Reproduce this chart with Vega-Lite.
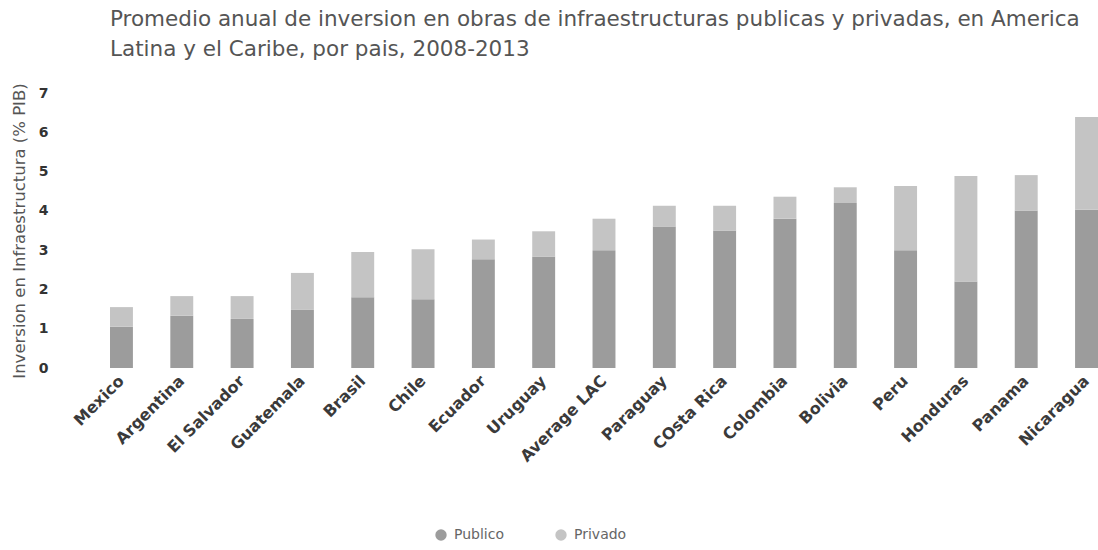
{
  "$schema": "https://vega.github.io/schema/vega-lite/v6.json",
  "autosize": "none",
  "padding": {"left": 110, "top": 93, "right": 0, "bottom": 182},
  "width": 988,
  "height": 275,
  "background": "white",
  "title": {
    "text": ["Promedio anual de inversion en obras de infraestructuras publicas y privadas, en America", "Latina y el Caribe, por pais, 2008-2013"],
    "anchor": "start",
    "frame": "group",
    "font": "DejaVu Sans",
    "fontSize": 21.5,
    "fontWeight": "normal",
    "color": "#555555",
    "lineHeight": 30,
    "offset": 22
  },
  "data": {
    "values": [
      {"pais": "Mexico", "tipo": "Publico", "orden": 1, "valor": 1.05},
      {"pais": "Mexico", "tipo": "Privado", "orden": 2, "valor": 0.5},
      {"pais": "Argentina", "tipo": "Publico", "orden": 1, "valor": 1.33},
      {"pais": "Argentina", "tipo": "Privado", "orden": 2, "valor": 0.5},
      {"pais": "El Salvador", "tipo": "Publico", "orden": 1, "valor": 1.25},
      {"pais": "El Salvador", "tipo": "Privado", "orden": 2, "valor": 0.58},
      {"pais": "Guatemala", "tipo": "Publico", "orden": 1, "valor": 1.48},
      {"pais": "Guatemala", "tipo": "Privado", "orden": 2, "valor": 0.94},
      {"pais": "Brasil", "tipo": "Publico", "orden": 1, "valor": 1.8},
      {"pais": "Brasil", "tipo": "Privado", "orden": 2, "valor": 1.15},
      {"pais": "Chile", "tipo": "Publico", "orden": 1, "valor": 1.75},
      {"pais": "Chile", "tipo": "Privado", "orden": 2, "valor": 1.27},
      {"pais": "Ecuador", "tipo": "Publico", "orden": 1, "valor": 2.77},
      {"pais": "Ecuador", "tipo": "Privado", "orden": 2, "valor": 0.5},
      {"pais": "Uruguay", "tipo": "Publico", "orden": 1, "valor": 2.83},
      {"pais": "Uruguay", "tipo": "Privado", "orden": 2, "valor": 0.65},
      {"pais": "Average LAC", "tipo": "Publico", "orden": 1, "valor": 3.0},
      {"pais": "Average LAC", "tipo": "Privado", "orden": 2, "valor": 0.8},
      {"pais": "Paraguay", "tipo": "Publico", "orden": 1, "valor": 3.6},
      {"pais": "Paraguay", "tipo": "Privado", "orden": 2, "valor": 0.53},
      {"pais": "COsta Rica", "tipo": "Publico", "orden": 1, "valor": 3.5},
      {"pais": "COsta Rica", "tipo": "Privado", "orden": 2, "valor": 0.63},
      {"pais": "Colombia", "tipo": "Publico", "orden": 1, "valor": 3.8},
      {"pais": "Colombia", "tipo": "Privado", "orden": 2, "valor": 0.56},
      {"pais": "Bolivia", "tipo": "Publico", "orden": 1, "valor": 4.2},
      {"pais": "Bolivia", "tipo": "Privado", "orden": 2, "valor": 0.4},
      {"pais": "Peru", "tipo": "Publico", "orden": 1, "valor": 3.0},
      {"pais": "Peru", "tipo": "Privado", "orden": 2, "valor": 1.63},
      {"pais": "Honduras", "tipo": "Publico", "orden": 1, "valor": 2.2},
      {"pais": "Honduras", "tipo": "Privado", "orden": 2, "valor": 2.69},
      {"pais": "Panama", "tipo": "Publico", "orden": 1, "valor": 4.0},
      {"pais": "Panama", "tipo": "Privado", "orden": 2, "valor": 0.91},
      {"pais": "Nicaragua", "tipo": "Publico", "orden": 1, "valor": 4.03},
      {"pais": "Nicaragua", "tipo": "Privado", "orden": 2, "valor": 2.36}
    ]
  },
  "mark": {"type": "bar"},
  "encoding": {
    "x": {
      "field": "pais",
      "type": "nominal",
      "sort": null,
      "scale": {"paddingInner": 0.62, "paddingOuter": 0},
      "axis": {
        "title": null,
        "labelAngle": -45,
        "labelAlign": "right",
        "labelBaseline": "middle",
        "labelFont": "DejaVu Sans",
        "labelFontWeight": "bold",
        "labelFontSize": 16,
        "labelColor": "#3a3a3a",
        "labelPadding": 10,
        "ticks": false,
        "domain": false,
        "labelOverlap": false
      }
    },
    "y": {
      "field": "valor",
      "type": "quantitative",
      "stack": "zero",
      "scale": {"domain": [0, 7]},
      "axis": {
        "title": "Inversion en Infraestructura (% PIB)",
        "titleFont": "DejaVu Sans",
        "titleFontWeight": "normal",
        "titleFontSize": 16.5,
        "titleColor": "#555555",
        "titlePadding": 11,
        "values": [0, 1, 2, 3, 4, 5, 6, 7],
        "labelFont": "DejaVu Sans",
        "labelFontWeight": "bold",
        "labelFontSize": 14,
        "labelColor": "#333333",
        "labelPadding": 62,
        "ticks": false,
        "domain": false,
        "grid": false
      }
    },
    "color": {
      "field": "tipo",
      "type": "nominal",
      "sort": ["Publico", "Privado"],
      "scale": {"domain": ["Publico", "Privado"], "range": ["#9c9c9c", "#c4c4c4"]},
      "legend": {
        "title": null,
        "orient": "none",
        "direction": "horizontal",
        "legendX": 324,
        "legendY": 435,
        "symbolType": "circle",
        "symbolSize": 130,
        "labelFont": "DejaVu Sans",
        "labelFontSize": 14,
        "labelColor": "#666666",
        "labelOffset": 6,
        "columnPadding": 50
      }
    },
    "order": {"field": "orden", "type": "quantitative"}
  },
  "config": {"view": {"stroke": null}}
}
